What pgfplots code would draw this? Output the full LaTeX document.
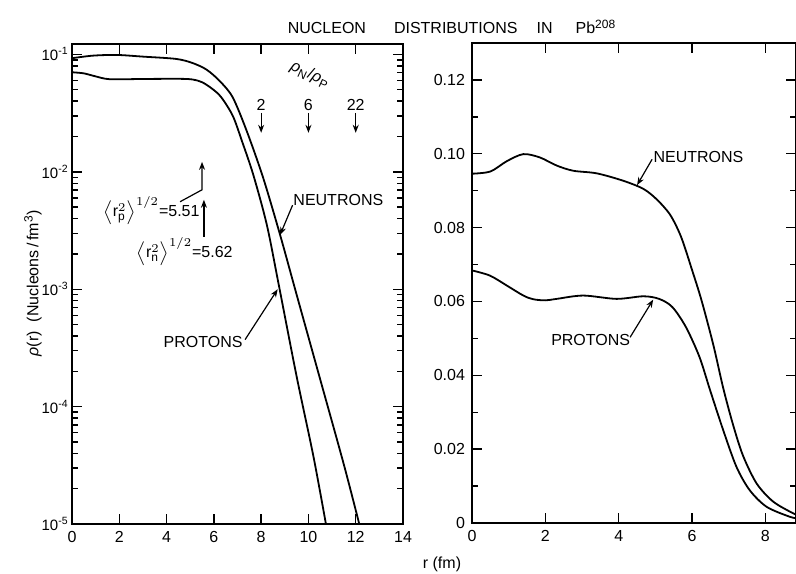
\documentclass[border=0pt]{standalone}
\usepackage{fontspec}
\setmainfont{Liberation Sans}
\usepackage{pgfplots}
\pgfplotsset{compat=1.18}
\usetikzlibrary{arrows.meta}

\newcommand\lbl{\fontsize{8}{9.6}\selectfont}

\pgfplotsset{
  panel/.style={
    scale only axis, anchor=south west, height=240pt,
    axis line style={line width=0.9pt},
    tick style={line width=0.7pt, black},
    major tick length=5pt, minor tick length=3pt,
    tick align=inside,
    tick label style={font=\lbl},
    /pgf/number format/assume math mode=true,
  },
  curve/.style={black, line width=0.9pt, smooth, no markers},
}
\tikzset{ptr/.style={line width=0.6pt, -{Stealth[length=4pt,width=3pt]}}}

\begin{document}
\begin{tikzpicture}[font=\lbl]
\useasboundingbox (0,0) rectangle (398pt,286.5pt);

% left panel: log scale
\begin{axis}[panel, at={(36pt,24.5pt)}, width=165.5pt,
  ymode=log, log basis y=10,
  xmin=0, xmax=14, ymin=1e-5, ymax=0.1227,
  xtick={0,2,...,14},
  ytick={1e-5,1e-4,1e-3,1e-2,1e-1},
  yticklabels={10\textsuperscript{-5},10\textsuperscript{-4},10\textsuperscript{-3},10\textsuperscript{-2},10\textsuperscript{-1}},
  yticklabel style={font=\fontsize{7.5}{9}\selectfont, inner sep=1.5pt},
  minor ytick={2e-5,3e-5,4e-5,5e-5,6e-5,7e-5,8e-5,9e-5,
               2e-4,3e-4,4e-4,5e-4,6e-4,7e-4,8e-4,9e-4,
               2e-3,3e-3,4e-3,5e-3,6e-3,7e-3,8e-3,9e-3,
               2e-2,3e-2,4e-2,5e-2,6e-2,7e-2,8e-2,9e-2},
]
% neutrons
\addplot[curve] coordinates {
  (0,0.0929) (0.9,0.0977) (1.9,0.0990) (3.0,0.0958) (4.4,0.0916)
  (5.1,0.0845) (5.7,0.0740) (6.26,0.0590) (6.8,0.0430) (7.4,0.0220)
  (8.09,0.00883) (8.8,0.00291) (9.5,9.0e-4) (10.5,1.7e-4) (11.5,3.2e-5)
  (12.15,1.0e-5)
};
% protons
\addplot[curve] coordinates {
  (0,0.0705) (0.5,0.0690) (1.0,0.0650) (1.6,0.0615) (3.0,0.0618)
  (4.5,0.0620) (5.1,0.0612) (5.5,0.0580) (5.9,0.0515) (6.3,0.0435)
  (6.8,0.0300) (7.2,0.0180) (7.67,0.0094) (8.24,0.00354) (8.73,0.00113)
  (9.5,1.81e-4) (10.21,3.78e-5) (10.74,1.0e-5)
};

% rho_N / rho_P markers
\node[rotate=-25] at (axis cs:10.07,6.7e-2) {\textit{ρ}\textsubscript{N}/\textit{ρ}\textsubscript{P}};
\node at (axis cs:8,3.72e-2) {2};
\node at (axis cs:10,3.72e-2) {6};
\node at (axis cs:12,3.72e-2) {22};
\draw[ptr] (axis cs:8,3.18e-2) -- (axis cs:8,2.15e-2);
\draw[ptr] (axis cs:10,3.18e-2) -- (axis cs:10,2.15e-2);
\draw[ptr] (axis cs:12,3.18e-2) -- (axis cs:12,2.15e-2);

% rms radii
\node[anchor=base east, inner sep=0] at (axis cs:5.41,0.00414)
  {$\left\langle \mathrm{r}_{\mathrm{p}}^{2}\right\rangle^{1/2}$=5.51};
\draw[ptr] (axis cs:4.57,0.00556) -- (axis cs:5.50,0.00703) -- (axis cs:5.50,0.01216);
\node[anchor=base east, inner sep=0] at (axis cs:6.81,0.00185)
  {$\left\langle \mathrm{r}_{\mathrm{n}}^{2}\right\rangle^{1/2}$=5.62};
\draw[ptr] (axis cs:5.58,0.0028) -- (axis cs:5.58,0.00578);

\node[anchor=west, inner sep=0] at (axis cs:9.35,0.00578) {NEUTRONS};
\draw[ptr] (axis cs:9.33,0.0052) -- (axis cs:8.80,0.0029);
\node[anchor=east, inner sep=0] at (axis cs:7.23,3.57e-4) {PROTONS};
\draw[ptr] (axis cs:7.32,3.72e-4) -- (axis cs:8.70,1.0e-3);
\end{axis}

% right panel: linear scale
\begin{axis}[panel, at={(236pt,25pt)}, width=161.75pt,
  xmin=0, xmax=8.82, ymin=0, ymax=0.13,
  xtick={0,2,4,6,8},
  ytick={0,0.02,0.04,0.06,0.08,0.10,0.12},
  yticklabels={0,0.02,0.04,0.06,0.08,0.10,0.12},
  minor ytick={0.01,0.03,0.05,0.07,0.09,0.11},
  scaled y ticks=false,
]
% neutrons
\addplot[curve] coordinates {
  (0,0.0946) (0.5,0.0952) (0.95,0.0980) (1.4,0.0999) (1.85,0.0990)
  (2.31,0.0968) (2.76,0.0954) (3.4,0.0947) (4.12,0.0927) (4.67,0.0905)
  (5.03,0.0877) (5.40,0.0835) (5.70,0.0775) (6.00,0.0685) (6.26,0.0602)
  (6.58,0.0482) (6.85,0.0365) (7.12,0.0265) (7.39,0.0182) (7.76,0.0107)
  (8.21,0.0058) (8.76,0.0026) (8.9,0.0022)
};
% protons
\addplot[curve] coordinates {
  (0,0.0684) (0.49,0.0670) (0.95,0.0643) (1.40,0.0616) (1.67,0.0606)
  (2.0,0.0603) (2.31,0.0607) (3.03,0.0616) (3.94,0.0607) (4.67,0.0614)
  (5.1,0.0607) (5.46,0.0585) (5.83,0.0531) (6.2,0.0450) (6.49,0.0360)
  (6.85,0.0251) (7.21,0.0152) (7.57,0.0089) (8.03,0.0044) (8.66,0.0017)
  (8.9,0.0012)
};
\node[anchor=west, inner sep=0] at (axis cs:4.94,0.0992) {NEUTRONS};
\draw[ptr] (axis cs:4.91,0.0985) -- (axis cs:4.50,0.0915);
\node[anchor=west, inner sep=0] at (axis cs:2.15,0.0495) {PROTONS};
\draw[ptr] (axis cs:4.31,0.0503) -- (axis cs:4.94,0.0605);
\end{axis}

\node at (226pt,273pt) {NUCLEON\hspace{14pt}DISTRIBUTIONS\hspace{9.5pt}IN\hspace{11.5pt}Pb\textsuperscript{208}};
\node[rotate=90] at (16.5pt,145pt) {\textit{ρ}(r)\ \ (Nucleons\,/\,fm\textsuperscript{3})};
\node at (221pt,4.5pt) {r (fm)};
\end{tikzpicture}
\end{document}
